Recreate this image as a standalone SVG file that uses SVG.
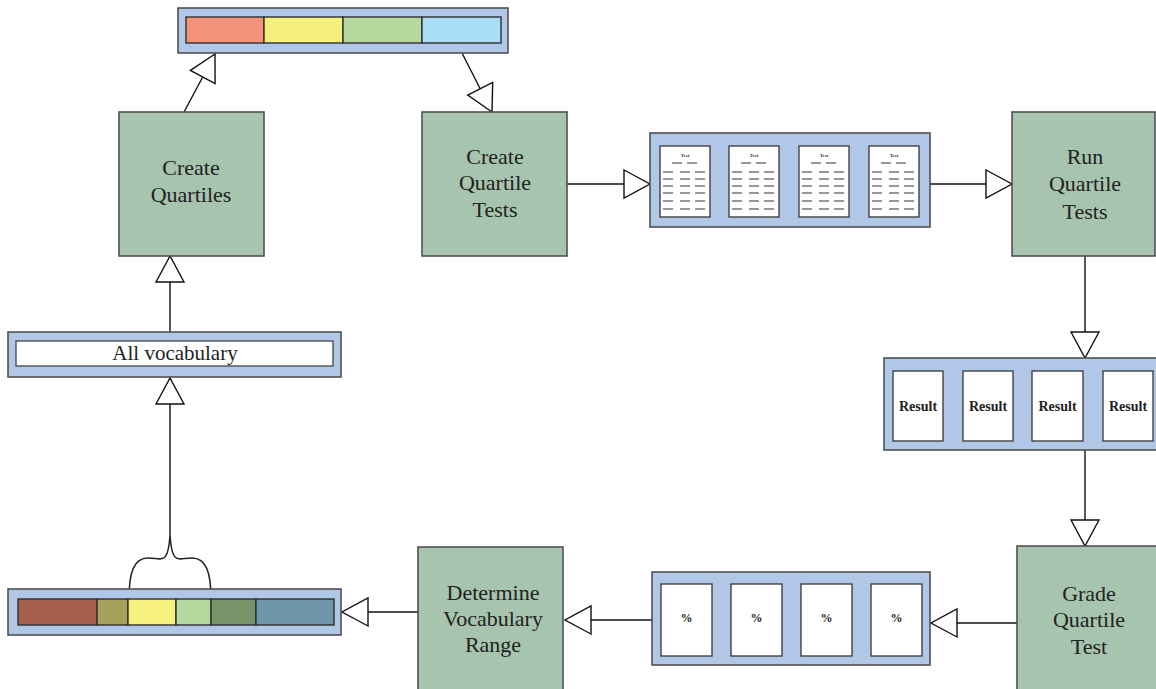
<svg xmlns="http://www.w3.org/2000/svg" width="1156" height="689" viewBox="0 0 1156 689">
<style>
.box{fill:#a6c4ae;stroke:#505050;stroke-width:1.6}
.panel{fill:#b1c7e7;stroke:#505050;stroke-width:1.6}
.doc{fill:#ffffff;stroke:#404040;stroke-width:1.4}
.seg{stroke:#303030;stroke-width:1.4}
.lbl{font-family:"Liberation Serif","Times New Roman",serif;font-size:22px;fill:#222;text-anchor:middle}
.res{font-family:"Liberation Serif","Times New Roman",serif;font-size:14px;font-weight:bold;fill:#222;text-anchor:middle}
.pct{font-family:"Liberation Serif","Times New Roman",serif;font-size:12px;font-weight:bold;fill:#222;text-anchor:middle}
.conn{stroke:#111;stroke-width:1.4;fill:none;marker-end:url(#tri)}
.dash{stroke:#333;stroke-width:1.2}
.tt{font-family:"Liberation Serif","Times New Roman",serif;font-size:5px;font-weight:bold;fill:#333;text-anchor:middle}
</style>
<defs>
<marker id="tri" markerUnits="userSpaceOnUse" markerWidth="30" markerHeight="32" refX="26" refY="14" orient="auto" viewBox="-2 -2 30 32">
<path d="M0,0 L26,14 L0,28 Z" fill="#fff" stroke="#111" stroke-width="1.4"/>
</marker>
<g id="testdoc">
<rect class="doc" x="0" y="0" width="50" height="71"/>
<text class="tt" x="25" y="11">Test</text>
<path class="dash" d="M12,17h10M27,17h10M3,26h10M20,26h10M35,26h10M3,33h10M20,33h10M35,33h10M3,40h10M20,40h10M35,40h10M3,47h10M20,47h10M35,47h10M3,55h10M20,55h10M35,55h10M3,63h10M20,63h10M35,63h10"/>
</g>
</defs>

<g id="connectors">
<line class="conn" x1="184" y1="112" x2="215" y2="54"/>
<line class="conn" x1="462" y1="53" x2="492" y2="112"/>
<line class="conn" x1="567" y1="184" x2="650" y2="184"/>
<line class="conn" x1="930" y1="184" x2="1012" y2="184"/>
<line class="conn" x1="1085" y1="256" x2="1085" y2="358"/>
<line class="conn" x1="1085" y1="450" x2="1085" y2="546"/>
<line class="conn" x1="1017" y1="623" x2="931" y2="623"/>
<line class="conn" x1="652" y1="620" x2="565" y2="620"/>
<line class="conn" x1="418" y1="612" x2="342" y2="612"/>
<line class="conn" x1="170" y1="535" x2="170" y2="378"/>
<line class="conn" x1="170" y1="332" x2="170" y2="256"/>
<path d="M129,599 C129,572 134,558 148,558 C162,558 168,566 170,535 C172,566 178,558 192,558 C206,558 211,572 211,599" fill="none" stroke="#222" stroke-width="1.5"/>
</g>

<g id="quartile-bar">
<rect class="panel" x="178" y="8" width="330" height="45"/>
<rect class="seg" x="186" y="17" width="78" height="26" fill="#f5937a"/>
<rect class="seg" x="264" y="17" width="79" height="26" fill="#f5f07e"/>
<rect class="seg" x="343" y="17" width="79" height="26" fill="#b6d9a0"/>
<rect class="seg" x="422" y="17" width="79" height="26" fill="#a9def6"/>
</g>

<g id="create-quartiles">
<rect class="box" x="119" y="112" width="145" height="144"/>
<text class="lbl" x="191" y="175">Create</text>
<text class="lbl" x="191" y="202">Quartiles</text>
</g>

<g id="create-quartile-tests">
<rect class="box" x="422" y="112" width="145" height="144"/>
<text class="lbl" x="495" y="164">Create</text>
<text class="lbl" x="495" y="190">Quartile</text>
<text class="lbl" x="495" y="217">Tests</text>
</g>

<g id="tests-panel">
<rect class="panel" x="650" y="133" width="280" height="94"/>
<use href="#testdoc" x="660" y="146"/>
<use href="#testdoc" x="729" y="146"/>
<use href="#testdoc" x="799" y="146"/>
<use href="#testdoc" x="869" y="146"/>
</g>

<g id="run-quartile-tests">
<rect class="box" x="1012" y="112" width="143" height="144"/>
<text class="lbl" x="1085" y="164">Run</text>
<text class="lbl" x="1085" y="191">Quartile</text>
<text class="lbl" x="1085" y="219">Tests</text>
</g>

<g id="results-panel">
<rect class="panel" x="884" y="358" width="280" height="92"/>
<rect class="doc" x="893" y="371" width="50" height="70"/>
<rect class="doc" x="963" y="371" width="50" height="70"/>
<rect class="doc" x="1032" y="371" width="51" height="70"/>
<rect class="doc" x="1103" y="371" width="50" height="70"/>
<text class="res" x="918" y="411">Result</text>
<text class="res" x="988" y="411">Result</text>
<text class="res" x="1057.5" y="411">Result</text>
<text class="res" x="1128" y="411">Result</text>
</g>

<g id="grade-quartile-test">
<rect class="box" x="1017" y="546" width="150" height="160"/>
<text class="lbl" x="1089" y="601">Grade</text>
<text class="lbl" x="1089" y="627">Quartile</text>
<text class="lbl" x="1089" y="654">Test</text>
</g>

<g id="percent-panel">
<rect class="panel" x="652" y="572" width="278" height="93"/>
<rect class="doc" x="661" y="584" width="51" height="72"/>
<rect class="doc" x="731" y="584" width="51" height="72"/>
<rect class="doc" x="801" y="584" width="51" height="72"/>
<rect class="doc" x="871" y="584" width="51" height="72"/>
<text class="pct" x="686.5" y="622">%</text>
<text class="pct" x="756.5" y="622">%</text>
<text class="pct" x="826.5" y="622">%</text>
<text class="pct" x="896.5" y="622">%</text>
</g>

<g id="determine-vocabulary-range">
<rect class="box" x="418" y="547" width="145" height="160"/>
<text class="lbl" x="493" y="600">Determine</text>
<text class="lbl" x="493" y="626">Vocabulary</text>
<text class="lbl" x="493" y="652">Range</text>
</g>

<g id="range-bar">
<rect class="panel" x="8" y="589" width="333" height="46"/>
<rect class="seg" x="18" y="599" width="79" height="26" fill="#a65f4c"/>
<rect class="seg" x="97" y="599" width="31" height="26" fill="#a6a05a"/>
<rect class="seg" x="128" y="599" width="48" height="26" fill="#f6f07e"/>
<rect class="seg" x="176" y="599" width="35" height="26" fill="#b6d9a0"/>
<rect class="seg" x="211" y="599" width="45" height="26" fill="#76936a"/>
<rect class="seg" x="256" y="599" width="78" height="26" fill="#7096aa"/>
</g>

<g id="all-vocabulary">
<rect class="panel" x="8" y="332" width="333" height="45"/>
<rect x="16" y="341" width="317" height="25" fill="#fff" stroke="#505050" stroke-width="1.4"/>
<text class="lbl" x="175" y="360" style="font-size:21px">All vocabulary</text>
</g>
</svg>
